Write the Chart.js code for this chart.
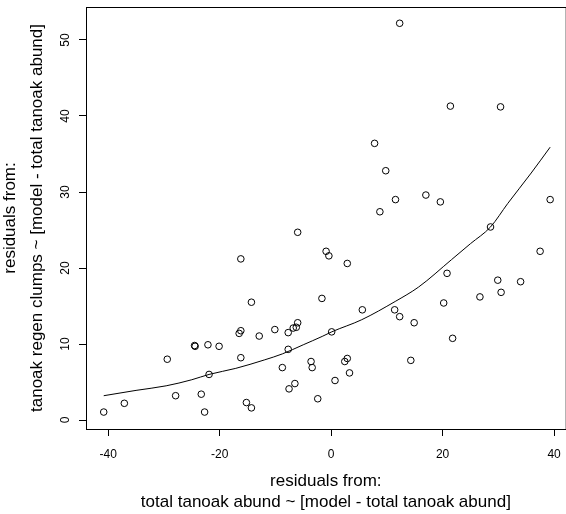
<!DOCTYPE html>
<html lang="en">
<head>
    <meta charset="UTF-8">
    <title>Residual plot</title>
    <script src="https://cdn.jsdelivr.net/npm/chart.js"></script>
    <style>
        html, body {
            margin: 0;
            padding: 0;
            background: #ffffff;
            overflow: hidden;
        }
        #wrap {
            width: 566px;
            height: 514px;
            overflow: hidden;
        }
    </style>
</head>
<body>
    <div id="wrap">
        <canvas id="plot" width="570" height="514"></canvas>
    </div>

    <script>
        // tick labels
        const xTicks = [-40, -20, 0, 20, 40];
        const yTicks = [0, 10, 20, 30, 40, 50];

        // residual points (x, y)
        const resX = [-40.8, -37.1, -29.4, -27.9, -24.5, -24.4, -22.1, -20.1, -23.3, -22.7,
                      -21.9, -16.2, -14.3, -16.5, -16.2, -16.2, -12.9, -10.1, -7.7, -6.8,
                      -6.25, -6.0, -6.0, -7.7, -8.75, -6.5, -7.55, -15.2, -14.3, -3.6,
                      -3.4, -2.4, -1.65, -0.9, -0.4, 2.9, 0.1, 5.6, 11.4, 12.3,
                      14.9, 20.8, 20.2, 21.8, 26.7, 29.9, 30.5, 34.0, 37.5, 28.6,
                      2.45, 2.9, 3.3, 0.7, 14.3, 12.3, 21.4, 30.4, 7.8, 9.8,
                      11.55, 8.75, 17.0, 19.6, 39.3];
        const resY = [1.05, 2.2, 8.0, 3.2, 9.8, 9.7, 9.9, 9.7, 3.4, 1.05,
                      6.0, 21.2, 15.5, 11.4, 11.75, 8.2, 11.05, 11.9, 11.5, 12.1,
                      12.2, 12.8, 24.7, 9.3, 6.9, 4.8, 4.1, 2.3, 1.6, 7.7,
                      6.9, 2.8, 16.0, 22.2, 21.6, 20.6, 11.6, 14.5, 14.5, 13.6,
                      12.8, 19.3, 15.4, 10.75, 16.2, 18.4, 16.8, 18.2, 22.2, 25.4,
                      7.7, 8.1, 6.2, 5.2, 7.85, 52.2, 41.3, 41.2, 36.4, 32.8,
                      29.0, 27.4, 29.6, 28.7, 29.0];

        // fitted curve
        const fitX = [-40.8, -35, -29.6, -25, -21.9, -17.1, -12, -8.75, -5, -1.6,
                      0.1, 5.5, 11.5, 15.7, 21.6, 25, 28.6, 31.7, 35.9, 39.3];
        const fitY = [3.2, 3.9, 4.5, 5.3, 6.0, 6.8, 7.9, 8.7, 9.9, 11.0,
                      11.6, 13.2, 15.6, 17.5, 21.1, 23.2, 25.4, 28.5, 32.5, 35.9];

        const points = resX.map((x, i) => ({ x: x, y: resY[i] }));
        const curve = fitX.map((x, i) => ({ x: x, y: fitY[i] }));

        const fontFamily = '"Liberation Sans", Arial, Helvetica, sans-serif';

        // box around the plot region, like R's bty="o"
        const boxPlugin = {
            id: 'box',
            afterDraw(chart) {
                const a = chart.chartArea;
                const c = chart.ctx;
                c.save();
                c.strokeStyle = '#000';
                c.lineWidth = 1;
                c.strokeRect(a.left + 0.5, a.top + 0.5, a.right - a.left, a.bottom - a.top);
                c.restore();
            }
        };

        new Chart(document.getElementById('plot'), {
            type: 'scatter',
            data: {
                datasets: [{
                    data: points,
                    borderColor: '#000',
                    backgroundColor: 'rgba(0,0,0,0)',
                    borderWidth: 1,
                    pointRadius: 3.3,
                    pointHoverRadius: 3.3
                }, {
                    data: curve,
                    showLine: true,
                    borderColor: '#000',
                    borderWidth: 1,
                    cubicInterpolationMode: 'monotone',
                    pointRadius: 0,
                    pointHoverRadius: 0
                }]
            },
            options: {
                responsive: false,
                animation: false,
                layout: { padding: { top: 7, right: 2, left: 0, bottom: 0 } },
                plugins: {
                    legend: { display: false },
                    tooltip: { enabled: false }
                },
                scales: {
                    x: {
                        type: 'linear',
                        min: -43.98,
                        max: 42.09,
                        afterBuildTicks: (s) => { s.ticks = xTicks.map(v => ({ value: v })); },
                        afterFit: (s) => {
                            s.height = 85;
                            s.paddingLeft = 0;
                            s.paddingRight = 0;
                        },
                        border: { display: false },
                        grid: {
                            drawOnChartArea: false,
                            drawTicks: true,
                            tickLength: 7,
                            tickColor: '#000',
                            color: '#000'
                        },
                        ticks: {
                            color: '#000',
                            padding: 11,
                            maxRotation: 0,
                            font: { family: fontFamily, size: 12 }
                        },
                        title: {
                            display: true,
                            text: ['residuals from:', 'total tanoak abund ~ [model - total tanoak abund]'],
                            color: '#000',
                            padding: { top: 0, bottom: 0.8 },
                            font: { family: fontFamily, size: 17, lineHeight: 1.27 }
                        }
                    },
                    y: {
                        type: 'linear',
                        min: -1.18,
                        max: 54.34,
                        afterBuildTicks: (s) => { s.ticks = yTicks.map(v => ({ value: v })); },
                        afterFit: (s) => {
                            s.width = 86;
                            s.paddingTop = 0;
                            s.paddingBottom = 0;
                        },
                        border: { display: false },
                        grid: {
                            drawOnChartArea: false,
                            drawTicks: true,
                            tickLength: 7,
                            tickColor: '#000',
                            color: '#000'
                        },
                        ticks: {
                            color: '#000',
                            padding: 7,
                            minRotation: 90,
                            maxRotation: 90,
                            crossAlign: 'center',
                            font: { family: fontFamily, size: 12 }
                        },
                        title: {
                            display: true,
                            text: ['residuals from:', 'tanoak regen clumps ~ [model - total tanoak abund]'],
                            color: '#000',
                            padding: { top: -2.6, bottom: 0 },
                            font: { family: fontFamily, size: 17, lineHeight: 1.565 }
                        }
                    }
                }
            },
            plugins: [boxPlugin]
        });
    </script>
</body>
</html>
